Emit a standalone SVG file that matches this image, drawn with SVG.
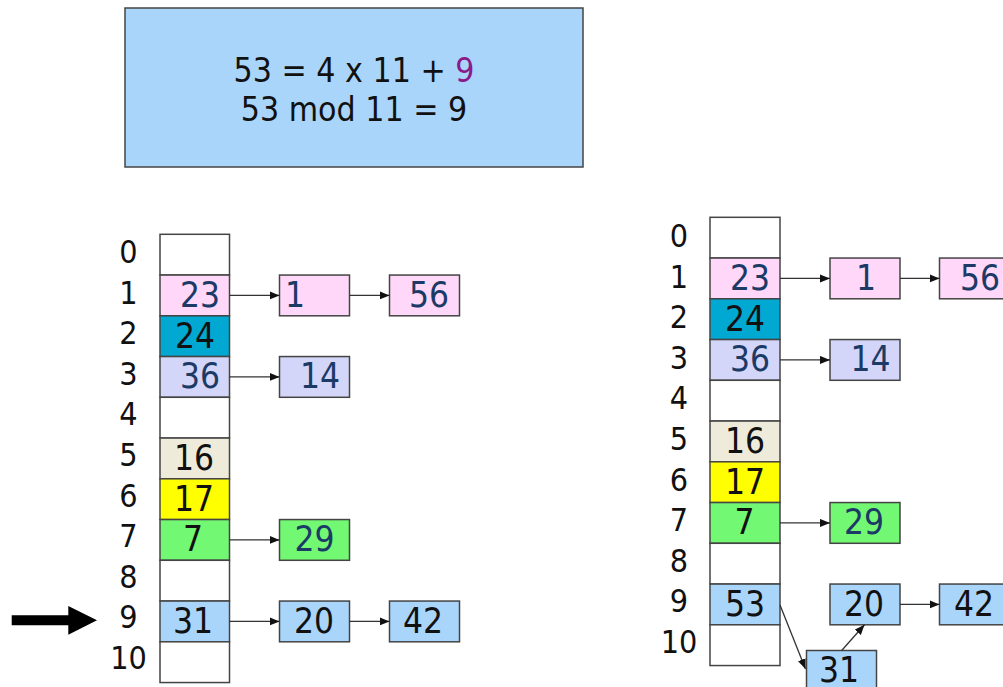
<svg xmlns="http://www.w3.org/2000/svg" width="1003" height="687" viewBox="0 0 1003 687">
<style>
text{font-family:"DejaVu Sans Condensed","DejaVu Sans",sans-serif;font-stretch:condensed;text-anchor:middle;fill:#111}
.lbl{font-size:32px}
.cell{font-size:35px}
.dk{fill:#1B3A66}
rect{stroke:#444;stroke-width:1.5}
.e{fill:#fff}.pk{fill:#FFD7F9}.tl{fill:#00A8D2}.lv{fill:#D3D6F8}.bg{fill:#EEEBDA}.yl{fill:#FFFF00}.gr{fill:#72F872}.bl{fill:#AAD5FB}
.c line{stroke:#333;stroke-width:1.3;marker-end:url(#ah)}
</style>
<defs>
<marker id="ah" markerUnits="userSpaceOnUse" markerWidth="11" markerHeight="9" refX="10" refY="4" orient="auto"><path d="M0,0 L10,4 L0,8 z" fill="#111"/></marker>
</defs>
<rect width="1003" height="687" style="fill:#fff;stroke:none"/>
<g id="formula">
<rect x="125" y="8" width="458" height="159" class="bl"/>
<text x="354" y="81.5" style="font-size:33.5px">53 = 4 x 11 + <tspan fill="#8B1A8B">9</tspan></text>
<text x="354" y="120.5" style="font-size:33.5px">53 mod 11 = 9</text>
</g>
<g id="left-labels">
<text x="128.5" y="263" class="lbl">0</text>
<text x="128.5" y="303.6" class="lbl">1</text>
<text x="128.5" y="344.2" class="lbl">2</text>
<text x="128.5" y="384.8" class="lbl">3</text>
<text x="128.5" y="425.4" class="lbl">4</text>
<text x="128.5" y="466" class="lbl">5</text>
<text x="128.5" y="506.6" class="lbl">6</text>
<text x="128.5" y="547.2" class="lbl">7</text>
<text x="128.5" y="587.8" class="lbl">8</text>
<text x="128.5" y="628.4" class="lbl">9</text>
<text x="128.5" y="669" class="lbl">10</text>
</g>
<g id="left-table">
<rect x="160" y="234.3" width="69.5" height="40.75" class="e"/>
<rect x="160" y="275.05" width="69.5" height="40.75" class="pk"/>
<rect x="160" y="315.8" width="69.5" height="40.75" class="tl"/>
<rect x="160" y="356.55" width="69.5" height="40.75" class="lv"/>
<rect x="160" y="397.3" width="69.5" height="40.75" class="e"/>
<rect x="160" y="438.05" width="69.5" height="40.75" class="bg"/>
<rect x="160" y="478.8" width="69.5" height="40.75" class="yl"/>
<rect x="160" y="519.55" width="69.5" height="40.75" class="gr"/>
<rect x="160" y="560.3" width="69.5" height="40.75" class="e"/>
<rect x="160" y="601.05" width="69.5" height="40.75" class="bl"/>
<rect x="160" y="641.8" width="69.5" height="40.75" class="e"/>
<text x="200" y="306.8" class="cell dk">23</text>
<text x="195" y="347.6" class="cell">24</text>
<text x="200" y="388.3" class="cell dk">36</text>
<text x="194" y="469.8" class="cell">16</text>
<text x="194" y="510.6" class="cell">17</text>
<text x="193" y="551.3" class="cell">7</text>
<text x="193" y="632.8" class="cell">31</text>
</g>
<g id="L-n1"><rect x="279.5" y="275.05" width="70" height="40.75" class="pk"/><text x="295" y="306.8" class="cell dk">1</text></g>
<g id="L-n56"><rect x="389.5" y="275.05" width="70" height="40.75" class="pk"/><text x="429" y="306.8" class="cell dk">56</text></g>
<g id="L-n14"><rect x="279.5" y="356.55" width="70" height="40.75" class="lv"/><text x="320" y="388.3" class="cell dk">14</text></g>
<g id="L-n29"><rect x="279.5" y="519.55" width="70" height="40.75" class="gr"/><text x="314.5" y="551.3" class="cell dk">29</text></g>
<g id="L-n20"><rect x="279.5" y="601.05" width="70" height="40.75" class="bl"/><text x="314" y="632.8" class="cell">20</text></g>
<g id="L-n42"><rect x="389.5" y="601.05" width="70" height="40.75" class="bl"/><text x="423" y="632.8" class="cell">42</text></g>
<g id="pointer"><path d="M11.7,615.3 H68.3 V606 L97,620.3 L68.3,634.8 V625.3 H11.7 z" fill="#000"/></g>
<g id="right-labels">
<text x="679" y="247" class="lbl">0</text>
<text x="679" y="287.6" class="lbl">1</text>
<text x="679" y="328.2" class="lbl">2</text>
<text x="679" y="368.8" class="lbl">3</text>
<text x="679" y="409.4" class="lbl">4</text>
<text x="679" y="450" class="lbl">5</text>
<text x="679" y="490.6" class="lbl">6</text>
<text x="679" y="531.2" class="lbl">7</text>
<text x="679" y="571.8" class="lbl">8</text>
<text x="679" y="612.4" class="lbl">9</text>
<text x="679" y="653" class="lbl">10</text>
</g>
<g id="right-table">
<rect x="710" y="217.3" width="70" height="40.75" class="e"/>
<rect x="710" y="258.05" width="70" height="40.75" class="pk"/>
<rect x="710" y="298.8" width="70" height="40.75" class="tl"/>
<rect x="710" y="339.55" width="70" height="40.75" class="lv"/>
<rect x="710" y="380.3" width="70" height="40.75" class="e"/>
<rect x="710" y="421.05" width="70" height="40.75" class="bg"/>
<rect x="710" y="461.8" width="70" height="40.75" class="yl"/>
<rect x="710" y="502.55" width="70" height="40.75" class="gr"/>
<rect x="710" y="543.3" width="70" height="40.75" class="e"/>
<rect x="710" y="584.05" width="70" height="40.75" class="bl"/>
<rect x="710" y="624.8" width="70" height="40.75" class="e"/>
<text x="750" y="289.8" class="cell dk">23</text>
<text x="745" y="330.6" class="cell">24</text>
<text x="750" y="371.3" class="cell dk">36</text>
<text x="745" y="452.8" class="cell">16</text>
<text x="745" y="493.6" class="cell">17</text>
<text x="744.5" y="534.3" class="cell">7</text>
<text x="745" y="615.8" class="cell">53</text>
</g>
<g id="R-n1"><rect x="830" y="258.05" width="70" height="40.75" class="pk"/><text x="866" y="289.8" class="cell dk">1</text></g>
<g id="R-n56"><rect x="939.5" y="258.05" width="70" height="40.75" class="pk"/><text x="980" y="289.8" class="cell dk">56</text></g>
<g id="R-n14"><rect x="830" y="339.55" width="70" height="40.75" class="lv"/><text x="870.5" y="371.3" class="cell dk">14</text></g>
<g id="R-n29"><rect x="830" y="502.55" width="70" height="40.75" class="gr"/><text x="864" y="534.3" class="cell dk">29</text></g>
<g id="R-n20"><rect x="830" y="584.05" width="70" height="40.75" class="bl"/><text x="864" y="615.8" class="cell">20</text></g>
<g id="R-n42"><rect x="939.5" y="584.05" width="70" height="40.75" class="bl"/><text x="974" y="615.8" class="cell">42</text></g>
<g id="R-n31"><rect x="806.5" y="650.5" width="70" height="40.75" class="bl"/><text x="839" y="682.3" class="cell">31</text></g>
<g id="connectors" class="c">
<line x1="229.5" y1="295.4" x2="279.5" y2="295.4"/>
<line x1="349.5" y1="295.4" x2="389.5" y2="295.4"/>
<line x1="229.5" y1="376.9" x2="279.5" y2="376.9"/>
<line x1="229.5" y1="539.9" x2="279.5" y2="539.9"/>
<line x1="229.5" y1="621.4" x2="279.5" y2="621.4"/>
<line x1="349.5" y1="621.4" x2="389.5" y2="621.4"/>
<line x1="780" y1="278.4" x2="830" y2="278.4"/>
<line x1="900" y1="278.4" x2="939.5" y2="278.4"/>
<line x1="780" y1="359.9" x2="830" y2="359.9"/>
<line x1="780" y1="522.9" x2="830" y2="522.9"/>
<line x1="900" y1="604.4" x2="939.5" y2="604.4"/>
<line x1="780" y1="605" x2="805.5" y2="669"/>
<line x1="841.7" y1="650.5" x2="864.5" y2="624.8"/>
</g>
</svg>
